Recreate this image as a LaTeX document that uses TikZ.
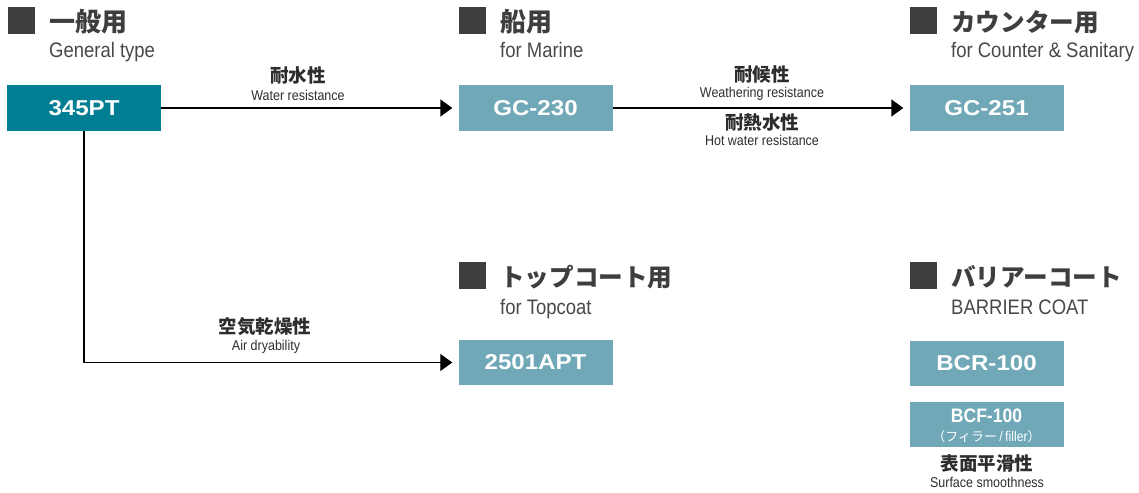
\documentclass[tikz,border=0pt]{standalone}
\usepackage{fontspec}
\setmainfont{Liberation Sans}
\newfontfamily\nar[FakeStretch=0.88]{Liberation Sans}
\newfontfamily\boxw[FakeStretch=1.12]{Liberation Sans}
\newfontfamily\boxn[FakeStretch=0.9]{Liberation Sans}
\newfontfamily\jp{Noto Sans CJK JP}
\usetikzlibrary{arrows.meta}
\definecolor{darkteal}{RGB}{0,127,148}
\definecolor{lightteal}{RGB}{112,168,184}
\definecolor{headgray}{RGB}{62,62,62}
\definecolor{subgray}{RGB}{72,72,72}
\definecolor{labgray}{RGB}{45,45,45}
\tikzset{
  prodbox/.style={fill=lightteal, text=white, minimum width=154pt, minimum height=45pt, inner sep=0pt,
    font=\boxw\bfseries\fontsize{21.5}{24}\selectfont},
  mainbox/.style={prodbox, fill=darkteal},
  headsq/.style={fill=headgray, minimum width=27pt, minimum height=27pt, inner sep=0pt},
  headjp/.style={anchor=west, inner sep=0pt, text=headgray, font=\jp\bfseries\fontsize{26}{28}\selectfont},
  headkana/.style={headjp, font=\jp\bfseries\fontsize{24.6}{28}\selectfont},
  heden/.style={anchor=base west, inner sep=0pt, text=subgray, font=\nar\fontsize{21}{23}\selectfont},
  labjp/.style={inner sep=0pt, text=labgray, font=\jp\bfseries\fontsize{18.5}{20}\selectfont},
  laben/.style={anchor=base, inner sep=0pt, text=labgray, font=\nar\fontsize{14.2}{16}\selectfont},
  conn/.style={line width=1.6pt, -{Triangle[length=12pt,width=17pt]}, shorten >=6pt},
}
\begin{document}
\begin{tikzpicture}[x=1pt,y=-1pt]
\useasboundingbox (0,0) rectangle (1139,492);

% headings
\node[headsq] (sq1) at (21,21) {};
\node[headjp] (h1) at (49,22) {一般用};
\node[heden] (e1) at (49,58) {General type};
\node[headsq] (sq2) at (472.5,21) {};
\node[headjp] (h2) at (500,22) {船用};
\node[heden] (e2) at (500,58) {for Marine};
\node[headsq] (sq3) at (923.5,21) {};
\node[headkana] (h3) at (951,22) {カウンター用};
\node[heden] (e3) at (951,58) {for Counter \& Sanitary};
\node[headsq] (sq4) at (472.5,275.5) {};
\node[headkana] (h4) at (500,277) {トップコート用};
\node[heden] (e4) at (500,314) {for Topcoat};
\node[headsq] (sq5) at (923.5,275.5) {};
\node[headkana] (h5) at (951,277) {バリアーコート};
\node[heden] (e5) at (951,314) {BARRIER COAT};

% boxes
\node[mainbox] (p345) at (84,108) {345PT};
\node[prodbox] (gc230) at (535.5,108) {GC-230};
\node[prodbox] (gc251) at (986.5,108) {GC-251};
\node[prodbox] (p2501) at (535.5,362.5) {2501APT};
\node[prodbox] (bcr) at (986.5,363.5) {BCR-100};
\node[prodbox] (bcf) at (986.5,424.5) {};
\node[inner sep=0pt, text=white, font=\boxn\bfseries\fontsize{19.5}{21}\selectfont] (bcft) at (986.5,416) {BCF-100};
\node[inner sep=0pt, text=white, font=\nar\fontsize{14}{15}\selectfont] (bcfs) at (986.5,437) {{\jp\fontsize{13}{14}\selectfont （フィラー}\,/\,filler{\jp\fontsize{13}{14}\selectfont ）}};

% connectors
\draw[conn] (p345.east) -- (gc230.west);
\draw[conn] (gc230.east) -- (gc251.west);
\draw[conn, line width=1.3pt] (p345.south) |- (p2501.west);

% labels
\node[labjp] (l1) at (298,75) {耐水性};
\node[laben] (l1e) at (298,100) {Water resistance};
\node[labjp] (l2) at (762,74) {耐候性};
\node[laben] (l2e) at (762,97.5) {Weathering resistance};
\node[labjp] (l3) at (762,122.5) {耐熱水性};
\node[laben] (l3e) at (762,145.5) {Hot water resistance};
\node[labjp] (l4) at (265,327) {空気乾燥性};
\node[laben] (l4e) at (266,350) {Air dryability};
\node[labjp] (l5) at (987,463) {表面平滑性};
\node[laben] (l5e) at (987,487) {Surface smoothness};
\end{tikzpicture}
\end{document}
